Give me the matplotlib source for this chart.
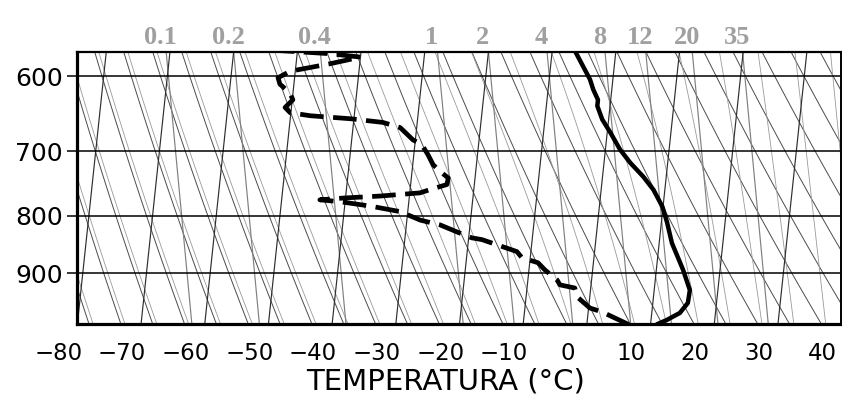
import numpy as np
import matplotlib.pyplot as plt
import matplotlib.transforms as mtransforms

# sounding: temperature (solid) and dewpoint (dashed), hPa / degC
p_temp = [1000, 991, 977, 957, 932, 894, 846, 811, 785, 758, 738, 717, 698,
          674, 656, 638, 630, 617, 604, 588, 570]
t_temp = [11.0, 12.5, 14.4, 15.5, 15.6, 14.2, 12.0, 10.9, 9.9, 8.2, 6.4, 4.1, 2.3,
          0.5, -1.0, -2.0, -2.0, -2.9, -3.6, -4.9, -6.4]

p_dew = [1000, 975, 967, 945, 928, 922, 913, 894, 881, 872, 861, 840, 837, 827,
         815, 807, 793, 784, 777, 774, 771, 768, 763, 758, 750, 740, 730, 720,
         705, 691, 684, 667, 660, 655, 651, 647, 640, 630, 621, 610, 602, 594,
         585, 577, 573, 569]
t_dew = [6.5, 2.2, 0.2, -2.0, -2.5, -4.9, -5.4, -7.5, -8.7, -11.3, -12.2, -17.9,
         -19.5, -21.9, -24.7, -27.9, -31.2, -36.0, -40.8, -44.0, -40.1, -34.6,
         -28.4, -26.9, -24.3, -24.2, -25.6, -26.8, -27.8, -28.9, -30.4, -32.6,
         -35.4, -40.6, -46.9, -50.1, -51.0, -49.9, -50.5, -52.2, -52.6, -50.8,
         -44.7, -40.0, -44.8, -53.5]

# axis labels
isobars = [600, 700, 800, 900]
temp_ticks = [-80, -70, -60, -50, -40, -30, -20, -10, 0, 10, 20, 30, 40]

# mixing ratio lines (g/kg) and their temperature at the top of the chart
mr_labels = ['0.1', '0.2', '0.4', '1', '2', '4', '8', '12', '20', '35']
mr_top_t = [-70.6, -60.0, -46.4, -28.0, -20.0, -10.8, -1.7, 4.7, 12.0, 19.9]

# background grid
isotherms = np.arange(-130, 60, 10)
thetas = np.arange(180, 480, 5)           # dry adiabats, K
theta_w = np.arange(-102.5, 45, 5)        # moist adiabats, degC at 1000 hPa

P_BOT, P_TOP = 1000.0, 570.6
SKEW = 8.1       # degC per unit ln p
SHIFT = 3.0      # isotherms sit a bit right of the printed labels
MR_LAPSE = 15.3  # degC per unit ln p along a mixing ratio line
SQUEEZE = 0.6    # the printed diagram is squeezed sideways


def skew_x(t, p):
    return np.asarray(t, float) + SHIFT + SKEW * np.log(P_BOT / np.asarray(p, float))


def moist_adiabat(t0, p):
    # pseudo-adiabat, simple euler steps upward from 1000 hPa
    rd, cp, lv, eps = 287.0, 1004.0, 2.5e6, 0.622
    t = t0 + 273.15
    out = [t]
    for k in range(1, len(p)):
        es = 6.112 * np.exp(17.67 * (t - 273.15) / (t - 29.65))
        rs = eps * es / (p[k - 1] - es)
        dtdp = (rd * t + lv * rs) / (cp + lv * lv * rs * eps / (rd * t * t)) / p[k - 1]
        t = t + dtdp * (p[k] - p[k - 1])
        out.append(t)
    return np.array(out) - 273.15


fig = plt.figure(figsize=(8.42, 3.94), dpi=100)
ax = fig.add_axes([0.0914, 0.1769, 0.9071, 0.6919])
ax.set_yscale('log')

pp = np.linspace(P_BOT, P_TOP, 120)

for t in isotherms:
    ax.plot(skew_x(np.full_like(pp, t), pp), pp, color='#2e2e2e', lw=0.85, zorder=2)

for th in thetas:
    t0 = th - 273.15
    tt = t0 + SQUEEZE * (th * (pp / 1000.0) ** 0.286 - th)
    ax.plot(skew_x(tt, pp), pp, color='#4c4c4c', lw=0.7, zorder=1)

for tw in theta_w:
    tt = tw + SQUEEZE * (moist_adiabat(tw, pp) - tw)
    ax.plot(skew_x(tt, pp), pp, color='#9a9a9a', lw=0.6, zorder=1)

for tt0 in mr_top_t:
    tt = tt0 + MR_LAPSE * np.log(pp / P_TOP)
    ax.plot(skew_x(tt, pp), pp, color='#808080', lw=0.85, zorder=1)

for p in isobars:
    ax.axhline(p, color='black', lw=1.1, zorder=3)

ax.plot(skew_x(t_temp, p_temp), p_temp, color='black', lw=3.2,
        solid_joinstyle='round', solid_capstyle='round', zorder=5)
ax.plot(skew_x(t_dew, p_dew), p_dew, color='black', lw=3.4, dashes=(5, 2),
        zorder=5)

ax.set_xlim(-77.06, 42.86)
ax.set_ylim(P_BOT, P_TOP)

ax.yaxis.set_major_locator(plt.FixedLocator(isobars))
ax.yaxis.set_minor_locator(plt.NullLocator())
ax.set_yticklabels([str(p) for p in isobars])
ax.tick_params(axis='y', direction='out', length=7, width=1.1, pad=3,
               labelsize=18)
ax.set_xticks([])

trans = mtransforms.blended_transform_factory(ax.transData, ax.transAxes)
for t in temp_ticks:
    ax.text(t, -0.065, f'{t}'.replace('-', '\u2212'), transform=trans,
            ha='center', va='top', fontsize=16.5)

ax.text(0.482, -0.238, 'TEMPERATURA (\u00b0C)', transform=ax.transAxes,
        ha='center', va='baseline', fontsize=21)

for lab, tt0 in zip(mr_labels, mr_top_t):
    ax.annotate(lab, xy=(skew_x(tt0, P_TOP), 1.0), xycoords=trans,
                xytext=(-4, 2), textcoords='offset points',
                ha='center', va='bottom', fontsize=19, color='#a0a0a0',
                family='Liberation Serif', fontweight='bold')

for side, w in [('left', 2.3), ('bottom', 2.3), ('top', 1.6), ('right', 1.4)]:
    ax.spines[side].set_linewidth(w)

fig.savefig('out.png', dpi=100)
